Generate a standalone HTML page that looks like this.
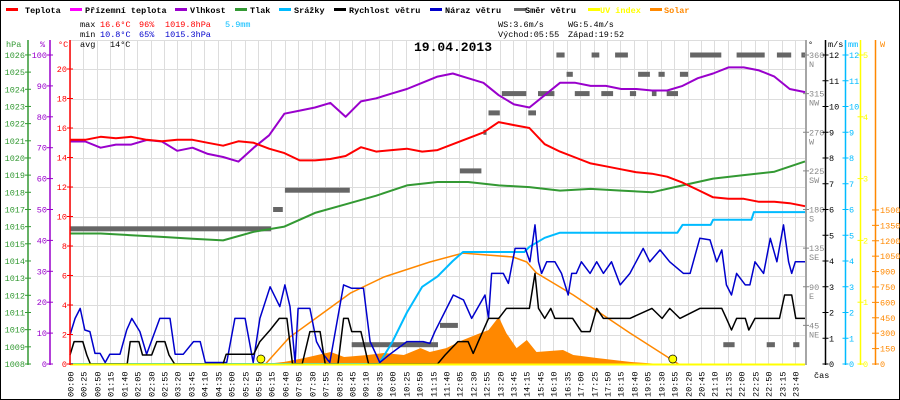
<!DOCTYPE html>
<html><head><meta charset="utf-8"><style>
html,body{margin:0;padding:0;background:#fff}
svg{display:block;font-family:"Liberation Mono","DejaVu Sans Mono",monospace;font-size:8.5px}
</style></head><body>
<svg id="chart" width="900" height="400" viewBox="0 0 900 400" xmlns="http://www.w3.org/2000/svg">
<rect x="0.5" y="0.5" width="899" height="399" fill="#fff" stroke="#000"/>
<g id="grid"></g>
<g id="series"></g>
<g id="axes"></g>
<g id="legend" font-weight="bold">
<g><rect x="6" y="8" width="12" height="3" fill="#f00"/><text x="25" y="13">Teplota</text></g>
<g><rect x="70" y="8" width="12" height="3" fill="#f0f"/><text x="85" y="13">Přízemní teplota</text></g>
<g><rect x="175" y="8" width="12" height="3" fill="#90c"/><text x="190" y="13">Vlhkost</text></g>
<g><rect x="235" y="8" width="12" height="3" fill="#393"/><text x="250" y="13">Tlak</text></g>
<g><rect x="279" y="8" width="12" height="3" fill="#0bf"/><text x="294" y="13">Srážky</text></g>
<g><rect x="334" y="8" width="12" height="3" fill="#000"/><text x="349" y="13">Rychlost větru</text></g>
<g><rect x="430" y="8" width="12" height="3" fill="#00c"/><text x="445" y="13">Náraz větru</text></g>
<g><rect x="514" y="8" width="12" height="3" fill="#666"/><text x="525" y="13">Směr větru</text></g>
<g><rect x="588" y="8" width="12" height="3" fill="#ff0"/><text x="600" y="13" fill="#ff0">UV index</text></g>
<g><rect x="650" y="8" width="12" height="3" fill="#f80"/><text x="664" y="13" fill="#f80">Solar</text></g>
</g>
<g id="stats">
<text x="80" y="27">max</text><text x="100" y="27" fill="#f00">16.6°C</text><text x="139" y="27" fill="#f00">96%</text><text x="165" y="27" fill="#f00">1019.8hPa</text><text x="225" y="27" fill="#0bf">5.9mm</text>
<text x="80" y="37">min</text><text x="100" y="37" fill="#00c">10.8°C</text><text x="139" y="37" fill="#00c">65%</text><text x="165" y="37" fill="#00c">1015.3hPa</text>
<text x="80" y="47">avg</text><text x="110" y="47">14°C</text>
<text x="498" y="27">WS:3.6m/s</text><text x="568" y="27">WG:5.4m/s</text>
<text x="498" y="37">Východ:05:55</text><text x="568" y="37">Západ:19:52</text>
</g>
<text x="414" y="51" font-size="13" font-weight="bold">19.04.2013</text>
</svg>
<script>
// ---- data ----
const timeLabels=["00:00","00:25","00:50","01:15","01:40","02:05","02:30","02:55","03:20","03:45","04:10","04:35","05:00","05:25","05:50","06:15","06:40","07:05","07:30","07:55","08:20","08:45","09:10","09:35","10:00","10:25","10:50","11:15","11:40","12:05","12:30","12:55","13:20","13:45","14:15","15:45","16:10","16:35","17:00","17:25","17:50","18:15","18:40","19:05","19:30","19:55","20:20","20:45","21:10","21:35","22:00","22:25","22:50","23:15","23:40"];
const tempValues=[15.2,15.2,15.4,15.3,15.4,15.2,15.1,15.2,15.2,15.0,14.8,15.1,15.0,14.6,14.3,13.8,13.8,13.9,14.1,14.7,14.4,14.5,14.6,14.4,14.5,14.9,15.3,15.7,16.4,16.2,16.0,14.9,14.4,14.0,13.6,13.4,13.2,13.0,12.9,12.7,12.3,11.8,11.3,11.2,11.2,11.0,11.0,10.9,10.7];
const humValues=[72,72,70,71,71,72.5,72,69,70,68,67,65.5,70,74,81,82,83,84.5,80,85,86,87.5,89,91,93,94,92.5,91,87,84,83,87,91,91,90,90,89,89,88.5,88.5,90,92.5,94,96,96,95,93,89,88];
const pressValues=[1015.6,1015.6,1015.5,1015.4,1015.3,1015.2,1015.7,1016.0,1016.8,1017.3,1017.8,1018.4,1018.6,1018.6,1018.4,1018.3,1018.1,1018.2,1018.1,1018.0,1018.4,1018.8,1019.0,1019.2,1019.8];
const rainTimes=[0,605,630,660,690,720,750,770,890,900,930,960,1190,1200,1255,1260,1335,1340,1440];
const rainValues=[0,0,0.8,2.0,3.0,3.4,4.0,4.35,4.35,4.55,4.9,5.1,5.1,5.4,5.4,5.6,5.6,5.9,5.9];
const gustTimes=[0,10,20,29,39,49,59,69,78,98,111,121,137,150,176,196,206,222,242,255,265,307,323,343,359,372,392,411,421,431,441,447,470,483,496,509,536,552,575,588,607,627,660,692,705,715,751,771,787,813,820,826,849,859,872,892,901,911,918,924,934,950,963,976,983,992,1002,1019,1032,1045,1061,1078,1097,1123,1136,1156,1175,1202,1215,1234,1254,1267,1277,1286,1296,1306,1323,1332,1342,1359,1372,1385,1398,1408,1414,1421,1440];
const gustValues=[1.13,1.77,2.16,1.32,1.26,0.41,0.41,0.06,0.38,0.38,1.32,1.77,1.26,0.38,1.77,1.77,0.38,0.38,0.87,0.87,0.06,0.06,1.77,1.77,0.06,1.77,3.0,2.23,3.07,2.23,0.06,2.16,2.16,0.87,0.38,0.06,3.07,2.94,2.94,0.87,0.06,0.38,0.87,0.87,0.80,1.26,2.68,2.49,1.77,2.68,1.77,3.52,3.52,3.13,4.49,4.49,3.97,5.40,3.97,3.52,3.97,3.97,3.52,2.68,3.52,3.52,3.97,3.52,3.97,3.52,3.97,3.07,3.52,4.49,3.97,4.43,3.97,3.52,3.52,4.88,4.82,3.97,4.43,3.07,2.68,3.52,3.07,3.07,3.97,3.52,4.88,3.97,5.40,3.97,3.52,3.97,3.97];
const speedTimes=[0,8,25,33,40,112,118,135,142,160,170,186,194,205,300,306,345,360,372,392,410,425,436,455,470,490,500,525,536,545,552,570,585,720,735,760,780,790,800,820,840,855,900,911,918,930,942,950,985,1002,1019,1032,1045,1097,1140,1160,1175,1195,1234,1277,1286,1296,1306,1323,1330,1342,1390,1400,1414,1422,1440];
const speedValues=[0.35,0.87,0.87,0.35,0,0,0.87,0.87,0.35,0.35,0.87,0.87,0.35,0,0,0.38,0.38,0.38,0.87,1.32,1.77,1.77,0,0,1.26,1.26,0,0,1.77,1.77,1.26,1.26,0,0,0.35,0.87,0.87,0.41,0.87,1.77,1.77,2.16,2.16,3.52,2.16,1.77,2.16,1.77,1.77,1.26,1.26,2.16,1.77,1.77,2.16,1.77,2.16,1.77,2.16,2.16,1.77,1.32,1.77,1.77,1.32,1.77,1.77,2.68,2.68,1.77,1.77];
const dirTimes=[0,398,421,552,725,764,810,820,846,898,917,953,973,989,1022,1041,1068,1097,1113,1140,1153,1169,1195,1215,1280,1306,1365,1385,1417,1433];
const dirValues=[157.5,180,202.5,22.5,45,225,270,292.5,315,292.5,315,360,337.5,315,360,315,360,315,337.5,315,337.5,315,337.5,360,22.5,360,22.5,360,22.5,360];
const solarTimes=[383,420,459,485,511,537,583,615,654,687,705,737,770,803,820,840,855,875,895,914,966,986,1032,1097,1156];
const solarValues=[0,20,58,88,117,68,88,107,88,155,117,155,234,300,330,458,300,155,234,117,136,88,58,20,0];
const theoTimes=[383,430,485,550,615,705,770,868,895,914,986,1097,1192];
const theoValues=[0,260,458,692,847,993,1080,1042,993,886,672,302,0];
const hpaTicks=[1008,1009,1010,1011,1012,1013,1014,1015,1016,1017,1018,1019,1020,1021,1022,1023,1024,1025,1026];
const humTicks=[0,10,20,30,40,50,60,70,80,90,100];
const tempTicks=[0,2,4,6,8,10,12,14,16,18,20];
const dirTicks=[45,90,135,180,225,270,315,360];
const dirNames=["NE","E","SE","S","SW","W","NW","N"];
const msTicks=[0,1,2,3,4,5,6,7,8,9,10,11,12];
const uvTicks=[0,1,2,3,4,5];
const wTicks=[0,150,300,450,600,750,900,1050,1200,1350,1500];

// ---- scales ----
const X=m=>70+m*0.5104;
const XL=i=>70+i*(725/54);
const YT=t=>364-t*14.75, YH=h=>364-h*3.09, YP=p=>364-(p-1008)*17.17;
const YW=v=>364-v*25.75, YD=d=>364-d*0.8583, YS=w=>364-w*0.1027, YU=u=>364-u*61.8;
const NS="http://www.w3.org/2000/svg";
function mk(parent,tag,attrs,txt){const e=document.createElementNS(NS,tag);for(const k in attrs)e.setAttribute(k,attrs[k]);if(txt!==undefined)e.textContent=txt;parent.appendChild(e);return e;}
const grid=document.getElementById('grid'),ser=document.getElementById('series'),ax=document.getElementById('axes');

timeLabels.forEach((lab,k)=>{const x=Math.round(XL(k))+0.5;const l=mk(grid,'line',{x1:x,y1:40,x2:x,y2:364,stroke:'#ddd'});


const t=mk(ax,'text',{x:0,y:0,transform:`translate(${x+3},397) rotate(-90)`},lab);

});
for(let v=2;v<=22;v+=2){const y=Math.round(YT(v))+0.5;const l=mk(grid,'line',{x1:70,y1:y,x2:805,y2:y,stroke:'#ddd'});

}

function poly(ts,vs,ys,color,w,name){const pts=ts.map((t,i)=>X(t).toFixed(1)+','+ys(vs[i]).toFixed(1)).join(' ');
const p=mk(ser,'polyline',{points:pts,fill:'none',stroke:color,'stroke-width':w,'stroke-linejoin':'round'});

return p;}

{const pts=[X(solarTimes[0])+','+364].concat(solarTimes.map((t,i)=>X(t).toFixed(1)+','+YS(solarValues[i]).toFixed(1))).concat([X(solarTimes[solarTimes.length-1])+','+364]).join(' ');
const p=mk(ser,'polygon',{points:pts,fill:'#f80'});

}
poly(theoTimes,theoValues,YS,'#f80',1.5,'solar-theoretical-line');
dirTimes.forEach((t,i)=>{const x1=X(t),x2=i<dirTimes.length-1?X(dirTimes[i+1])-2:X(1440);
const r=mk(ser,'rect',{x:x1.toFixed(1),y:(YD(dirValues[i])-2.5).toFixed(1),width:Math.max(2,x2-x1).toFixed(1),height:5,fill:'#666'});

});
const hourT=pressValues.map((_,i)=>i*60), halfT=tempValues.map((_,i)=>i*30), halfH=humValues.map((_,i)=>i*30);
poly(hourT,pressValues,YP,'#393',2,'pressure-line');
poly(halfH,humValues,YH,'#90c',2,'humidity-line');
poly(halfT,tempValues,YT,'#f00',2,'temperature-line');
poly(rainTimes,rainValues,YW,'#0bf',2,'rain-line');
poly(gustTimes,gustValues,YW,'#00c',1.5,'wind-gust-line');
poly(speedTimes,speedValues,YW,'#000',1.5,'wind-speed-line');
{const l=mk(ser,'line',{x1:70,y1:364.5,x2:805,y2:364.5,stroke:'#ff0','stroke-width':2});

}
[374,1181].forEach(t=>{const c=mk(ser,'circle',{cx:X(t),cy:359,r:4,fill:'#ff0',stroke:'#000','stroke-width':0.7});

});

function vaxis(x,color,ticks,ys,side,labelX,fmt,name){const g=mk(ax,'g',{fill:color});


mk(g,'line',{x1:x,y1:40,x2:x,y2:365,stroke:color,'stroke-width':1.5});
ticks.forEach((v,i)=>{const y=ys(v);mk(g,'line',{x1:x-3,y1:y,x2:x+3,y2:y,stroke:color});
mk(g,'text',{x:labelX,y:y+3,'text-anchor':side},fmt?fmt(v,i):String(v));});return g;}
vaxis(28,'#393',hpaTicks,YP,'end',25,null,'pressure-axis');
vaxis(50,'#90c',humTicks,YH,'end',47,null,'humidity-axis');
vaxis(70,'#f00',tempTicks,YT,'end',67,null,'temperature-axis');
{const g=vaxis(806,'#888',dirTicks,YD,'start',809,null,'direction-axis');
dirTicks.forEach((v,i)=>{mk(g,'text',{x:809,y:YD(v)+12},dirNames[i]);});}
vaxis(825.5,'#000',msTicks,YW,'start',829,null,'wind-speed-axis');
vaxis(845.5,'#0bf',msTicks,YW,'start',849,null,'rain-axis');
vaxis(860.5,'#ff0',uvTicks,YU,'start',863,null,'uv-axis');
{const g=mk(ax,'g',{fill:'#f80'});


mk(g,'line',{x1:875.5,y1:40,x2:875.5,y2:365,stroke:'#f80','stroke-width':1.5});
wTicks.forEach(v=>{const y=YS(v);mk(g,'line',{x1:872,y1:y,x2:879,y2:y,stroke:'#f80'});mk(g,'text',{x:880,y:y+3},String(v));});}
[[6,'hPa','#393'],[40,'%','#90c'],[58,'°C','#f00'],[808,'°','#000'],[828,'m/s','#000'],[848,'mm','#0bf'],[880,'W','#f80']].forEach(a=>{const t=mk(ax,'text',{x:a[0],y:47,fill:a[2]},a[1]);

});
{const t=mk(ax,'text',{x:814,y:378},'čas');

}
</script>
</body></html>
